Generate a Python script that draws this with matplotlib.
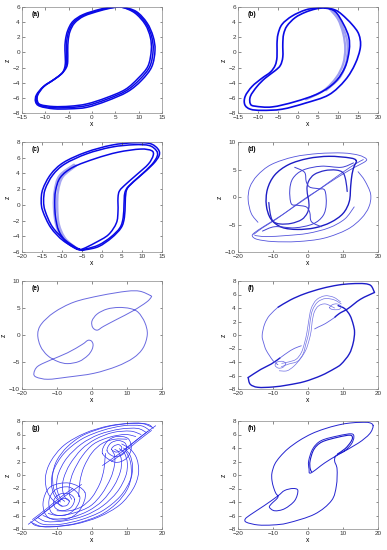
import matplotlib
matplotlib.use("Agg")
import matplotlib.pyplot as plt
from matplotlib.path import Path
from matplotlib.patches import PathPatch

plt.rcParams['font.family'] = ['Liberation Sans', 'DejaVu Sans']

# ---------------- data ----------------
A_OUTER = [(6.5,6.0),(9.5,5.4),(11.8,3.9),(13.1,2.1),(13.5,0.3),(12.8,-1.9),(10.6,-3.7),(7.6,-5.2),(3.2,-6.4),(-1.1,-7.25),(-4.7,-7.45),(-8.2,-7.45),(-11.2,-7.1),(-12.1,-6.5),(-11.9,-5.6),(-10.4,-4.5),(-8.2,-3.6),(-6.5,-2.8),(-5.9,-2.1),(-5.7,-1.2),(-5.8,0.3),(-5.7,1.6),(-5.2,2.9),(-4.1,4.1),(-1.9,5.0),(1.7,5.7),(4.5,6.0),(6.5,6.0)]
A_MID = [(6.5,5.97),(9.35,5.3),(11.6,3.8),(12.8,2.05),(13.1,0.3),(12.4,-1.85),(10.25,-3.55),(7.35,-5.05),(3.1,-6.2),(-1.1,-7.02),(-4.7,-7.27),(-8.2,-7.3),(-11.1,-7.0),(-11.9,-6.45),(-11.75,-5.6),(-10.35,-4.5),(-8.2,-3.6),(-6.5,-2.8),(-5.7,-2.05),(-5.45,-1.2),(-5.5,0.3),(-5.4,1.6),(-4.95,2.85),(-3.9,4.0),(-1.8,4.9),(1.7,5.6),(4.5,5.95),(6.5,5.97)]
A_INNER = [(6.5,5.95),(9.2,5.2),(11.4,3.7),(12.5,2.0),(12.7,0.3),(12.0,-1.8),(9.9,-3.4),(7.1,-4.9),(3.0,-6.0),(-1.1,-6.8),(-4.7,-7.1),(-8.2,-7.15),(-11.0,-6.9),(-11.7,-6.4),(-11.6,-5.6),(-10.3,-4.5),(-8.2,-3.6),(-6.5,-2.8),(-5.5,-2.0),(-5.2,-1.2),(-5.2,0.3),(-5.1,1.6),(-4.7,2.8),(-3.7,3.9),(-1.7,4.8),(1.7,5.5),(4.5,5.9),(6.5,5.95)]

B_OUTER = [(6.8,5.9),(9.3,5.6),(11,5.0),(13.5,3.7),(15.2,2.4),(15.6,0.7),(14.3,-1.5),(11.8,-3.65),(7.7,-5.6),(1.8,-6.7),(-4,-7.5),(-9,-7.65),(-11.9,-7.5),(-13.3,-6.9),(-13.2,-5.8),(-11.5,-4.5),(-9,-3.4),(-6.9,-2.6),(-5.7,-1.7),(-5.25,-0.6),(-5.25,1.1),(-5,2.4),(-4,3.7),(-1.5,4.8),(1.8,5.6),(4.5,5.85),(6.8,5.9)]
B_INNER = [(6.8,5.85),(9.3,5.4),(11.4,3.7),(12.7,2.0),(12.8,0.3),(11.8,-1.9),(9.3,-3.9),(5.2,-5.4),(-0.7,-6.5),(-6.5,-7.2),(-10.7,-7.1),(-11.9,-6.8),(-11.9,-5.8),(-10.25,-4.5),(-8.2,-3.4),(-5.7,-2.4),(-4.4,-1.7),(-3.8,-0.6),(-3.8,1.1),(-3.6,2.4),(-2.75,3.5),(-0.7,4.6),(1.8,5.3),(4.5,5.75),(6.8,5.85)]
B_FADE1 = [(8,5.7),(10,4.4),(11.3,2.5),(11.8,0.5),(11.3,-1.5),(9.6,-3.3),(6.5,-5.0),(2,-6.2)]
B_FADE2 = [(8.5,5.6),(10.6,4.0),(12.1,2.0),(12.4,0.3),(11.9,-1.6),(10.3,-3.4),(7,-5.0)]

C_OUTER = [(-5.6,-5.7),(-9.6,-4.6),(-12.8,-2.9),(-14.8,-0.8),(-15.2,0.5),(-14.8,2.0),(-12.8,3.9),(-9.6,5.4),(-4,6.7),(2.4,7.6),(8,7.9),(12,7.8),(14,7.1),(14.3,6.3),(12.8,5.2),(9.6,3.7),(6.8,2.4),(6,1.6),(5.8,0.1),(5.6,-1.6),(4.8,-2.9),(2.4,-4.2),(-0.8,-5.3),(-4,-5.7),(-5.6,-5.7)]
C_OUTER2 = [(-5.8,-5.6),(-9.4,-4.4),(-12.4,-2.8),(-14.2,-0.8),(-14.6,0.5),(-14.2,2.0),(-12.3,3.8),(-9.3,5.2),(-3.8,6.5),(2.4,7.35),(8,7.65),(11.8,7.55),(13.6,6.9),(13.8,6.2),(12.4,5.1),(9.3,3.6),(6.6,2.35),(5.7,1.5),(5.5,0.1),(5.3,-1.6),(4.5,-2.9),(2.2,-4.1),(-0.8,-5.1),(-4,-5.6),(-5.8,-5.6)]
C_INNER = [(-6.2,-5.65),(-8.8,-4.8),(-10.8,-3.3),(-11.6,-1.6),(-11.8,0.1),(-11.6,1.8),(-10.4,3.5),(-7.2,4.8),(-1.6,5.9),(4,6.7),(9.6,7.1),(12.4,6.9),(12.8,6.3),(11.6,5.2),(8.8,3.9),(6,2.65),(4.4,1.8),(4,0.9),(4,-0.8),(3.6,-2.3),(1.6,-3.8),(-1.6,-4.8),(-4.8,-5.6),(-6.2,-5.65)]
C_FADE1 = [(-6.5,-5.5),(-9.2,-4.3),(-10.8,-2.5),(-11.2,-0.3),(-11.0,1.8),(-9.8,3.6),(-6.5,5.0)]
C_FADE2 = [(-6.5,-5.5),(-9.6,-4.4),(-11.4,-2.6),(-12.0,-0.3),(-11.8,1.8),(-10.6,3.7),(-7.0,5.1)]

D_OUT1 = [(-14.3,-4.6),(-16.2,-3),(-17.1,-0.5),(-16.6,1.8),(-14.5,3.9),(-10.5,5.9),(-4,7.3),(3,7.9),(10,8.0),(14.5,7.6),(16.7,6.9),(16.0,6.3),(13,5.3),(8,3.4),(3,1.3),(0,0.1),(-4,-1.7),(-9,-4.0),(-13,-5.6),(-15.5,-6.8)]
D_OUT2 = [(14.3,4.6),(16.2,3),(17.9,0.5),(17.4,-1.8),(15.2,-3.9),(11.2,-5.9),(4.5,-7.5),(-3,-8.1),(-10,-8.1),(-14.5,-7.7),(-15.9,-7.1),(-15.3,-6.5),(-12.5,-5.3),(-7.5,-3.3),(-2.5,-1.1),(0.5,0.2),(4.5,2.0),(9.5,4.3),(13.5,6.0),(15.8,6.8)]
D_OUT3 = [(-15.2,-7.0),(-12,-7.2),(-6,-7.0),(0,-6.6),(6,-5.6),(10.5,-4.0),(13.2,-1.8)]
D_DARK = [(13.8,6.6),(12,7.1),(6,7.4),(0,7.0),(-5.5,5.9),(-9.5,4.0),(-11.6,1.4),(-11.9,-1.5),(-10.6,-4.0),(-7.5,-5.5),(-3,-5.9),(2,-5.6),(6.5,-4.6),(10,-3.0),(11.8,-0.8),(12.2,2.0),(12.6,4.2),(13.2,5.6),(13.8,6.6)]
D_HOOK_U = [(0,0),(-0.3,1.5),(0.2,2.9),(1.8,4.1),(4.8,4.8),(8,4.9),(10,4.4),(10.8,3.0),(11.2,1.0)]
D_HOOK_D = [(0,0),(0.3,-1.5),(-0.2,-2.9),(-1.8,-4.1),(-4.8,-4.8),(-8,-4.9),(-10,-4.4),(-10.8,-3.0),(-11.2,-1.0)]
D_S_L = [(3.8,-5.4),(1,-4.5),(0.5,-2.8),(-0.5,-1.8),(-3,-1.5),(-4.8,-1.2),(-5.2,1.3),(-4.3,3.4),(-1.4,4.9),(3.8,5.6),(9.5,5.4),(13,6.2)]
D_S_R = [(-3.8,5.4),(-1,4.5),(-0.5,2.8),(0.5,1.8),(3,1.5),(4.8,1.2),(5.2,-1.3),(4.3,-3.4),(1.4,-4.9),(-3.8,-5.6),(-9.5,-5.4),(-13,-6.2)]

E_PATH = [(16.7,7.3),(13.7,8.1),(9.9,8.1),(2.4,7.3),(-5.1,6.1),(-10.8,4.2),(-14.5,2.0),(-15.5,0.1),(-14.7,-2.1),(-12.7,-3.8),(-9.8,-4.9),(-7,-5.3),(-3.7,-4.9),(-1.2,-3.8),(0,-2.7),(0.3,-1.75),(-0.2,-1.1),(-1.2,-1.0),(-2.8,-1.75),(-7,-3.3),(-11.7,-4.6),(-15.5,-5.8),(-16.6,-7.1),(-15.9,-7.8),(-12.6,-8.2),(-7,-7.8),(0.5,-7.1),(7.1,-5.8),(11.8,-4.25),(14.6,-2.4),(15.8,0.1),(15.1,2.3),(13.2,4.2),(10.9,4.9),(7.6,5.1),(4.3,4.8),(1.5,3.9),(0,2.6),(0.2,1.4),(1.5,0.9),(3.3,1.6),(7.1,2.9),(11.8,4.5),(15.6,6.1),(16.9,7.0),(16.7,7.3)]

F_BOT = [(-17.1,-6.3),(-16.5,-7.3),(-14.3,-7.75),(-10,-7.7),(-5.7,-7.4),(-1,-6.9),(3.8,-6.0),(7.5,-5.0),(9.5,-4.3),(11.8,-2.8),(12.9,-1.2),(13.3,0.4),(12.9,1.6),(12.0,2.9),(10.5,3.9),(8.6,4.35)]
F_TOP = [(19,6.3),(18,7.3),(16.2,7.6),(12.5,7.6),(8.6,7.4),(4,6.9),(-1,6.1),(-5,5.2),(-8.6,4.1)]
F_LEFT = [(-8.6,4.1),(-11,2.9),(-12.4,1.6),(-13.1,-0.1),(-12.6,-1.3),(-11.9,-2.3),(-10,-3.8),(-8.6,-4.4)]
F_DIAG_U = [(19,6.3),(15,5.3),(11.4,3.9),(9,3.2),(7.6,2.6)]
F_DIAG_U2 = [(7.6,2.6),(5,1.7),(3,1.2),(1.9,0.9)]
F_DIAG_D = [(-17.1,-6.3),(-13.5,-5.1),(-10.5,-4.3),(-8,-3.4)]
F_DIAG_D2 = [(-8,-3.4),(-5,-2.3),(-3,-1.8),(-1.9,-1.6)]
F_SPU1 = [(6.2,4.1),(7.0,4.5),(8.3,4.6),(9.5,4.25),(8.9,3.8),(7.4,3.75),(6.4,3.9),(6.2,4.1)]
F_SPD1 = [(-6.4,-4.3),(-7.2,-4.8),(-8.5,-4.9),(-9.4,-4.5),(-8.8,-4.0),(-7.3,-3.9),(-6.5,-4.1),(-6.4,-4.3)]
F_S1 = [(9.5,4.6),(7.5,5.2),(5,5.4),(2.8,4.9),(1.3,3.7),(0.6,2.0),(0.2,0.3),(-0.6,-1.3),(-1.4,-2.8),(-3,-3.9),(-5.5,-4.3),(-7.6,-4.7)]
F_S2 = [(9.3,4.9),(7.3,5.6),(4.8,5.8),(2.4,5.2),(0.9,3.9),(0.2,2.1),(-0.3,0.4),(-1.0,-1.2),(-1.9,-2.6),(-3.4,-3.6),(-5.6,-4.0),(-7.5,-4.2)]
F_S3 = [(7.6,4.0),(5,4.6),(3,4.3),(1.8,3.4),(1.2,2.0),(0.9,0.6),(0.3,-0.8),(-0.6,-2.2),(-2,-3.4),(-4,-4.6),(-6,-5.3),(-8.2,-5.3)]

G_TOP1 = [(17.5,6.9),(16,7.5),(12,7.7),(5,7.3),(-2,6.2),(-8,4.4),(-11.8,2.0),(-13.3,-0.3),(-12.8,-2.4),(-11,-3.8),(-8.5,-4.6)]
G_TOP2 = [(16.5,6.6),(14,7.3),(9,7.3),(3,6.6),(-3,5.3),(-8,3.2),(-10.9,0.8),(-11.6,-1.2),(-10.8,-3.0),(-9,-4.0)]
G_TOP3 = [(15.5,6.3),(13,6.9),(8,6.8),(2,6.0),(-3,4.6),(-7.2,2.5),(-9.6,0.2),(-10.1,-1.7),(-9.3,-3.2),(-7.8,-3.9)]
G_TOP4 = [(14,6.0),(11,6.5),(6,6.3),(1,5.3),(-3,3.8),(-6.3,1.6),(-8.1,-0.5),(-8.4,-2.2),(-7.6,-3.4),(-6.5,-3.8)]
G_TOP5 = [(12.5,5.7),(9.5,6.0),(5,5.6),(0.5,4.6),(-2.8,2.8),(-5.3,0.5),(-6.4,-1.4),(-6.5,-2.8),(-5.8,-3.6)]
G_TOP6 = [(10,5.3),(6.5,5.3),(3,4.7),(0,3.3),(-2.3,1.2),(-3.4,-0.8),(-3.7,-2.4),(-3.9,-3.2)]
G_TOP7 = [(17,7.1),(14.5,7.6),(10,7.6),(4,7.1),(-2.5,5.9),(-7,4.2),(-10,2.2),(-11.2,0.2),(-11.0,-1.9),(-9.8,-3.4)]
G_BOT1 = [(-17.5,-6.9),(-16,-7.5),(-12,-7.7),(-5,-7.3),(2,-6.2),(8,-4.4),(11.8,-2.0),(13.3,0.3),(12.8,2.4),(11,3.8),(8.5,4.6)]
G_BOT2 = [(-16.5,-6.6),(-14,-7.3),(-9,-7.3),(-3,-6.6),(3,-5.3),(8,-3.2),(10.9,-0.8),(11.6,1.2),(10.8,3.0),(9,4.0)]
G_BOT3 = [(-15.5,-6.3),(-13,-6.9),(-8,-6.8),(-2,-6.0),(3,-4.6),(7.2,-2.5),(9.6,-0.2),(10.1,1.7),(9.3,3.2),(7.8,3.9)]
G_BOT4 = [(-14,-6.0),(-11,-6.5),(-6,-6.3),(-1,-5.3),(3,-3.8),(6.3,-1.6),(8.1,0.5),(8.4,2.2),(7.6,3.4),(6.5,3.8)]
G_BOT5 = [(-12.5,-5.7),(-9.5,-6.0),(-5,-5.6),(-0.5,-4.6),(2.8,-2.8),(5.3,-0.5),(6.4,1.4),(6.5,2.8),(5.8,3.6)]
G_BOT6 = [(-10,-5.3),(-6.5,-5.3),(-3,-4.7),(0,-3.3),(2.3,-1.2),(3.4,0.8),(3.7,2.4),(3.9,3.2)]
G_BOT7 = [(-17,-7.1),(-14.5,-7.6),(-10,-7.6),(-4,-7.1),(2.5,-5.9),(7,-4.2),(10,-2.2),(11.2,-0.2),(11.0,1.9),(9.8,3.4)]
G_SU1 = [(5.6,3.8),(6.3,4.3),(7.6,4.5),(8.5,4.1),(8.1,3.6),(6.8,3.4),(5.6,3.8)]
G_SU2 = [(4.3,3.6),(5.3,4.7),(7.5,5.1),(9.5,4.7),(9.8,3.7),(8.3,2.9),(6,2.8),(4.3,3.6)]
G_SU3 = [(3.0,3.2),(4.2,4.9),(7,5.7),(10.3,5.4),(11.2,3.9),(9.7,2.4),(6.5,1.9),(3.0,3.2)]
G_SD1 = [(-6.5,-3.9),(-7.2,-4.5),(-8.8,-4.6),(-9.6,-4.1),(-8.8,-3.6),(-7.3,-3.5),(-6.5,-3.9)]
G_SD2 = [(-5.0,-3.6),(-6.0,-4.8),(-8.5,-5.3),(-10.6,-4.8),(-10.8,-3.6),(-9,-2.8),(-6.5,-2.8),(-5.0,-3.6)]
G_SD3 = [(-3.5,-3.2),(-4.8,-5.0),(-8,-6.0),(-11.5,-5.6),(-12.3,-3.8),(-10.5,-2.2),(-6.5,-1.8),(-3.5,-3.2)]
G_SD4 = [(-2.0,-2.6),(-3.5,-5.2),(-7.5,-6.6),(-12.5,-6.3),(-14,-4.2),(-12,-1.8),(-6.5,-1.2),(-2.0,-2.6)]
G_DU1 = [(18.2,7.3),(14,5.7),(10,4.0),(6,2.5),(3,1.4)]
G_DU2 = [(17,6.6),(13,5.0),(9,3.3),(5.5,2.0)]
G_DU3 = [(16,6.5),(12,4.9),(8.5,3.5)]
G_DD1 = [(-18.2,-7.3),(-14,-5.7),(-10,-4.0),(-6,-2.5),(-3,-1.4)]
G_DD2 = [(-17,-6.6),(-13,-5.0),(-9,-3.3),(-5.5,-2.0)]
G_DD3 = [(-16,-6.5),(-12,-4.9),(-8.5,-3.5)]

H_PATH = [(18.6,7.3),(17.5,7.75),(15.2,7.8),(12,7.7),(8.6,7.4),(4.5,6.8),(1,6.1),(-2.5,5.1),(-5.7,3.9),(-8,2.7),(-9.5,1.6),(-10.3,0.3),(-10.3,-0.8),(-9.8,-1.9),(-9.2,-2.7),(-8.6,-3.3),(-10.5,-4.3),(-11,-4.8),(-9.5,-5.3),(-6.7,-5.0),(-3.8,-3.8),(-2.9,-2.3),(-4.3,-2.0),(-6.7,-2.3),(-8.6,-3.1),(-12.4,-4.5),(-16.2,-5.8),(-17.9,-6.5),(-17.6,-7.0),(-14.3,-7.4),(-10,-7.4),(-5.7,-7.1),(1.9,-5.8),(6.7,-3.8),(8.1,-1.6),(8.3,0.9),(7.6,2.1),(8.1,2.9),(10.5,3.6),(12.4,4.6),(13.1,5.6),(12.4,6.1),(8.6,5.8),(3.8,5.1),(1.4,3.9),(0.2,2.1),(0.3,0.9),(0.8,0.3),(4.8,1.8),(8.6,3.0),(14.3,4.7),(17.6,6.1),(18.6,7.3)]
H_LOBE2 = [(8.4,3.1),(10.6,3.9),(12.1,4.8),(12.7,5.5),(12.0,5.9),(8.6,5.6),(4.0,4.9),(1.7,3.8),(0.6,2.1),(0.6,1.0),(1.0,0.5)]

PANELS = [
    # label, xlim, xticks, ylim, yticks
    ("(a)", (-15, 15), [-15, -10, -5, 0, 5, 10, 15], (-8, 6), [-8, -6, -4, -2, 0, 2, 4, 6]),
    ("(b)", (-15, 20), [-15, -10, -5, 0, 5, 10, 15, 20], (-8, 6), [-8, -6, -4, -2, 0, 2, 4, 6]),
    ("(c)", (-20, 15), [-20, -15, -10, -5, 0, 5, 10, 15], (-6, 8), [-6, -4, -2, 0, 2, 4, 6, 8]),
    ("(d)", (-20, 20), [-20, -10, 0, 10, 20], (-10, 10), [-10, -5, 0, 5, 10]),
    ("(e)", (-20, 20), [-20, -10, 0, 10, 20], (-10, 10), [-10, -5, 0, 5, 10]),
    ("(f)", (-20, 20), [-20, -10, 0, 10, 20], (-8, 8), [-8, -6, -4, -2, 0, 2, 4, 6, 8]),
    ("(g)", (-20, 20), [-20, -10, 0, 10, 20], (-8, 8), [-8, -6, -4, -2, 0, 2, 4, 6, 8]),
    ("(h)", (-20, 20), [-20, -10, 0, 10, 20], (-8, 8), [-8, -6, -4, -2, 0, 2, 4, 6, 8]),
]

# ---------------- figure ----------------
fig = plt.figure(figsize=(3.87, 5.50), dpi=100)
W, H = 387.0, 550.0
cols = [22, 238]
col_w = 140
rows = [(7, 113), (142, 252), (281, 389), (421, 529)]

axes = []
for i, (lab, xl, xt, yl, yt) in enumerate(PANELS):
    r, c = divmod(i, 2)
    top, bot = rows[r]
    ax = fig.add_axes([cols[c] / W, 1 - bot / H, col_w / W, (bot - top) / H])
    ax.set_xlim(*xl)
    ax.set_ylim(*yl)
    ax.set_xticks(xt)
    ax.set_yticks(yt)
    ax.tick_params(direction='in', length=1.8, width=0.4, labelsize=4.6,
                   top=True, right=True, pad=1.5, colors='#333333')
    for s in ax.spines.values():
        s.set_linewidth(0.5)
        s.set_color('#888888')
    ax.set_xlabel('x', fontsize=4.8, labelpad=0.5)
    ax.set_ylabel('z', fontsize=4.8, labelpad=0.5)
    ax.text(0.07, 0.93, lab, transform=ax.transAxes, fontsize=4.8,
            fontweight='bold', va='center', ha='left')
    axes.append(ax)


def draw(ax, pts, color, lw, alpha=1.0):
    """Draw traced points as a smooth (Catmull-Rom / Bezier) path through them."""
    closed = len(pts) > 3 and pts[0] == pts[-1]
    P = list(pts[:-1]) if closed else list(pts)
    n = len(P)
    verts = [P[0]]
    codes = [Path.MOVETO]
    nseg = n if closed else n - 1
    for i in range(nseg):
        p1 = P[i]
        p2 = P[(i + 1) % n]
        p0 = P[(i - 1) % n] if (closed or i > 0) else p1
        p3 = P[(i + 2) % n] if (closed or i + 2 < n) else p2
        c1 = (p1[0] + (p2[0] - p0[0]) / 6.0, p1[1] + (p2[1] - p0[1]) / 6.0)
        c2 = (p2[0] - (p3[0] - p1[0]) / 6.0, p2[1] - (p3[1] - p1[1]) / 6.0)
        verts += [c1, c2, p2]
        codes += [Path.CURVE4] * 3
    patch = PathPatch(Path(verts, codes), facecolor='none', edgecolor=color,
                      lw=lw, alpha=alpha, capstyle='round', joinstyle='round')
    ax.add_patch(patch)


DARK = '#0a0ae6'
# (a)
for s in (A_OUTER, A_MID, A_INNER):
    draw(axes[0], s, DARK, 1.1)
# (b)
for s in (B_FADE1, B_FADE2):
    draw(axes[1], s, '#a0a0f0', 1.6)
for s in (B_OUTER, B_INNER):
    draw(axes[1], s, DARK, 1.2)
# (c)
for s in (C_FADE1, C_FADE2):
    draw(axes[2], s, '#a8a8f2', 1.8)
for s in (C_OUTER, C_OUTER2, C_INNER):
    draw(axes[2], s, DARK, 1.1)
# (d)
for s in (D_OUT1, D_OUT2, D_OUT3):
    draw(axes[3], s, '#5454dc', 0.6)
draw(axes[3], D_DARK, '#1c1cc4', 1.0)
for s in (D_HOOK_U, D_HOOK_D):
    draw(axes[3], s, '#2a2ac8', 0.9)
for s in (D_S_L, D_S_R):
    draw(axes[3], s, '#4040d4', 0.7)
# (e)
draw(axes[4], E_PATH, '#6a6ae0', 0.7)
# (f)
for s in (F_BOT, F_TOP, F_DIAG_U, F_DIAG_D):
    draw(axes[5], s, '#1c1cc8', 1.0)
for s in (F_LEFT, F_DIAG_U2, F_DIAG_D2):
    draw(axes[5], s, '#6060e0', 0.6)
for s in (F_SPU1, F_SPD1, F_S1, F_S2, F_S3):
    draw(axes[5], s, '#7070e4', 0.5)
# (g)
for s in (G_TOP1, G_TOP2, G_TOP3, G_TOP4, G_TOP5, G_TOP6, G_TOP7,
          G_BOT1, G_BOT2, G_BOT3, G_BOT4, G_BOT5, G_BOT6, G_BOT7,
          G_SU1, G_SU2, G_SU3, G_SD1, G_SD2, G_SD3, G_SD4,
          G_DU1, G_DU2, G_DU3, G_DD1, G_DD2, G_DD3):
    draw(axes[6], s, '#3030ee', 0.5)
# (h)
draw(axes[7], H_PATH, '#2424d0', 0.7)
draw(axes[7], H_LOBE2, '#1818c8', 0.8)

fig.savefig('out.png', dpi=100)
